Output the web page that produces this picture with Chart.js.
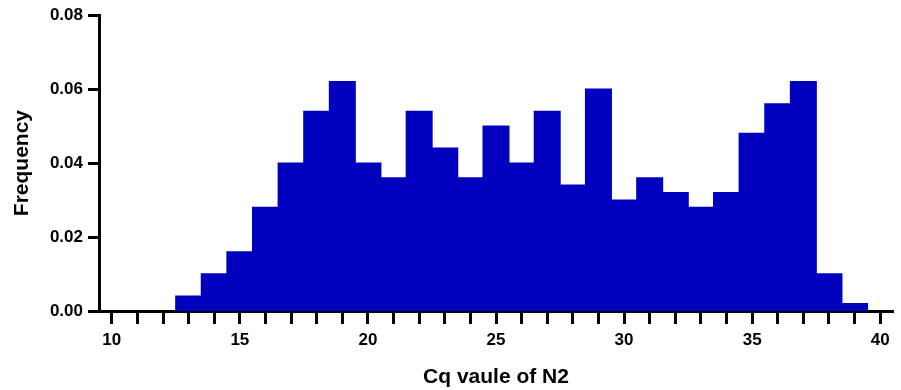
<!DOCTYPE html>
<html>
<head>
<meta charset="utf-8">
<script src="https://cdn.jsdelivr.net/npm/chart.js@4.4.1/dist/chart.umd.min.js"></script>
<style>
  html, body { margin: 0; padding: 0; background: #ffffff; }
  #wrap { width: 901px; height: 390px; }
</style>
</head>
<body>
<div id="wrap"><canvas id="hist" width="901" height="390"></canvas></div>
<script>
// Histogram bins (centre of each 1-unit bin) and their relative frequencies
const binCenters = [13, 14, 15, 16, 17, 18, 19, 20, 21, 22, 23, 24, 25, 26,
                    27, 28, 29, 30, 31, 32, 33, 34, 35, 36, 37, 38, 39];
const frequency  = [0.004, 0.010, 0.016, 0.028, 0.040, 0.054, 0.062, 0.040, 0.036,
                    0.054, 0.044, 0.036, 0.050, 0.040, 0.054, 0.034, 0.060, 0.030,
                    0.036, 0.032, 0.028, 0.032, 0.048, 0.056, 0.062, 0.010, 0.002];

// Axis ticks: a mark at every integer, labels every 5
const xTickMarks  = [10, 11, 12, 13, 14, 15, 16, 17, 18, 19, 20, 21, 22, 23, 24, 25,
                     26, 27, 28, 29, 30, 31, 32, 33, 34, 35, 36, 37, 38, 39, 40];
const xTickLabels = [10, 15, 20, 25, 30, 35, 40];
const yTickValues = [0, 0.02, 0.04, 0.06, 0.08];

const FONT = "'Liberation Sans', Arial, Helvetica, sans-serif";
const barColor = 'rgb(0, 0, 190)';

const points = binCenters.map((c, i) => ({ x: c, y: frequency[i] }));

new Chart(document.getElementById('hist'), {
  type: 'bar',
  data: {
    datasets: [{
      data: points,
      backgroundColor: barColor,
      borderColor: barColor,
      borderWidth: 0,
      inflateAmount: 0.7,   // neighbouring bins overlap slightly, so no seams
      barPercentage: 1,
      categoryPercentage: 1
    }]
  },
  options: {
    responsive: false,
    animation: false,
    devicePixelRatio: 1,
    layout: { padding: { left: 0, right: 8, top: 8, bottom: 0 } },
    plugins: {
      legend: { display: false },
      tooltip: { enabled: false }
    },
    scales: {
      x: {
        type: 'linear',
        offset: false,
        min: 9.5,
        max: 40.5,
        afterBuildTicks: (scale) => {
          scale.ticks = xTickMarks.map(v => ({ value: v }));
        },
        afterFit: (scale) => { scale.height = 79; },
        border: { display: true, color: '#000', width: 3 },
        grid: {
          display: true,
          offset: false,
          drawOnChartArea: false,
          drawTicks: true,
          tickLength: 13,
          tickWidth: 3,
          tickColor: '#000'
        },
        ticks: {
          autoSkip: false,
          maxRotation: 0,
          padding: 6,
          color: '#000',
          font: { family: FONT, size: 17, weight: 'bold' },
          callback: (v) => (xTickLabels.includes(v) ? String(v) : '')
        },
        title: {
          display: true,
          text: 'Cq vaule of N2',
          color: '#000',
          font: { family: FONT, size: 21, weight: 'bold' },
          padding: { top: 0, bottom: 0 }
        }
      },
      y: {
        min: 0,
        max: 0.08,
        afterBuildTicks: (scale) => {
          scale.ticks = yTickValues.map(v => ({ value: v }));
        },
        afterFit: (scale) => { scale.width = 99; },
        border: { display: true, color: '#000', width: 3 },
        grid: {
          display: true,
          drawOnChartArea: false,
          drawTicks: true,
          tickLength: 11,
          tickWidth: 3,
          tickColor: '#000'
        },
        ticks: {
          padding: 5,
          color: '#000',
          font: { family: FONT, size: 17, weight: 'bold' },
          callback: (v) => Number(v).toFixed(2)
        },
        title: {
          display: true,
          text: 'Frequency',
          color: '#000',
          font: { family: FONT, size: 21, weight: 'bold' },
          padding: { top: 10, bottom: 0 }
        }
      }
    }
  }
});
</script>
</body>
</html>
